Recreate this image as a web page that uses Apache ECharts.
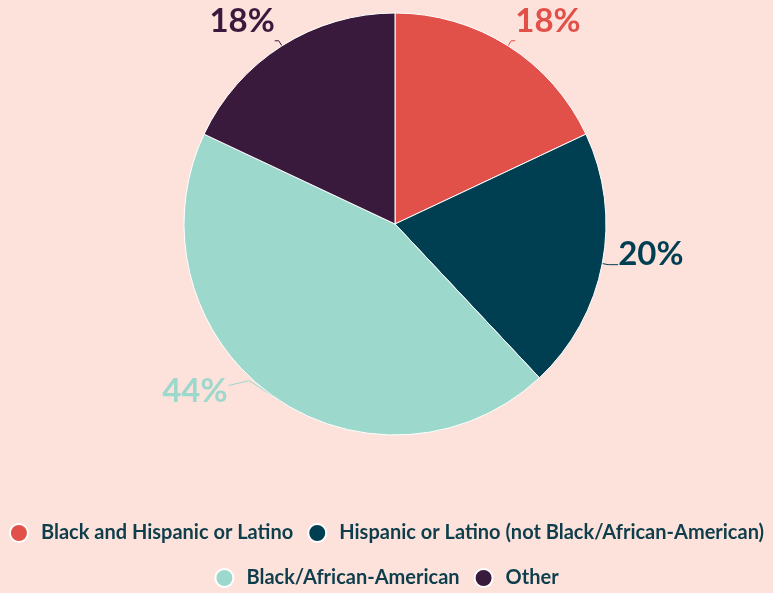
<!DOCTYPE html>
<html>
<head>
<meta charset="utf-8">
<script src="https://cdn.jsdelivr.net/npm/echarts@6/dist/echarts.min.js"></script>
<style>
html,body{margin:0;padding:0;background:#fde2dc;}
#c{width:773px;height:593px;}
</style>
</head>
<body>
<div id="c"></div>
<script>
const categories = ["Black and Hispanic or Latino", "Hispanic or Latino (not Black/African-American)", "Black/African-American", "Other"];
const values = [18, 20, 44, 18];
const colors = ["#e2504a", "#003f52", "#9dd8cc", "#3a1a3c"];
const legendRow1 = [categories[0], categories[1]];
const legendRow2 = [categories[2], categories[3]];

const labelShift = [[0, -19], [0, -10], [-36, -8], [0, -19]];
const lineLen2 = [4, 10, 4, 4];

const chart = echarts.init(document.getElementById('c'));
const legendBase = {
  orient: 'horizontal',
  left: 'center',
  icon: 'circle',
  itemWidth: 18,
  itemHeight: 18,
  itemGap: 14,
  textStyle: {fontFamily: 'Lato', fontSize: 20, fontWeight: 'bold', color: '#0e3e4c', padding: [0, 0, 0, 8]},
  selectedMode: false
};
chart.setOption({
  backgroundColor: '#fde2dc',
  animation: false,
  legend: [
    Object.assign({}, legendBase, {data: legendRow1, top: 518}),
    Object.assign({}, legendBase, {data: legendRow2, top: 563})
  ],
  series: [{
    type: 'pie',
    center: [395, 224],
    radius: [0, 211],
    startAngle: 90,
    clockwise: true,
    avoidLabelOverlap: false,
    itemStyle: {borderColor: '#ffffff', borderWidth: 1},
    label: {
      show: true,
      position: 'outside',
      formatter: '{c}%',
      fontFamily: 'Lato',
      fontSize: 33,
      fontWeight: 'bold',
      distanceToLabelLine: 0
    },
    labelLine: {show: true, length: 6, length2: 4, lineStyle: {width: 1}},
    labelLayout: function (p) {
      const s = labelShift[p.dataIndex];
      const out = {dx: s[0], dy: s[1]};
      if (p.dataIndex === 2 && p.labelLinePoints) {
        const p0 = p.labelLinePoints[0];
        const r = p.labelRect;
        const endX = r.x + r.width + s[0] + 1;
        const endY = r.y + r.height / 2 + s[1] - 6;
        out.labelLinePoints = [
          [p0[0], p0[1]],
          [p0[0] - 22, p0[1] - 14],
          [endX, endY]
        ];
      }
      return out;
    },
    data: categories.map((n, i) => ({
      name: n,
      value: values[i],
      itemStyle: {color: colors[i]},
      label: {color: colors[i]},
      labelLine: {length2: lineLen2[i], lineStyle: {color: colors[i]}}
    }))
  }]
});
</script>
</body>
</html>
